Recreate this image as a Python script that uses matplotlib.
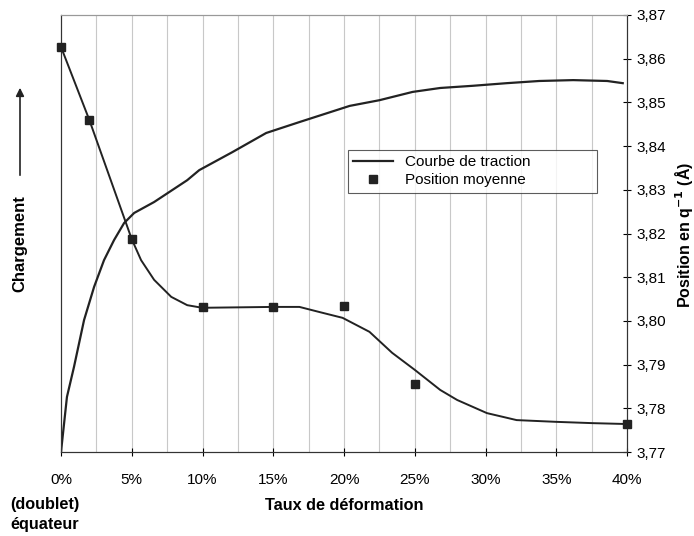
import matplotlib
matplotlib.use('Agg')
import matplotlib.pyplot as plt

plt.rcParams['font.family'] = ['Liberation Sans', 'DejaVu Sans']

# courbe de traction (chargement, unites arbitraires)
traction_x = [0, 0.42, 0.92, 1.63, 2.34, 3.04, 3.75, 4.46, 5.17, 6.58, 8.92, 9.77,
              12.1, 14.5, 16.85, 20.4, 22.5, 24.85, 26.8, 29.1, 31.5, 33.8, 36.2, 38.6, 39.7]
traction_y = [0, 0.126, 0.195, 0.302, 0.378, 0.439, 0.485, 0.524, 0.547, 0.572, 0.622, 0.645,
              0.686, 0.730, 0.755, 0.792, 0.805, 0.824, 0.833, 0.838, 0.844, 0.849, 0.851, 0.849, 0.844]

# position moyenne (points mesures)
pos_x = [0, 2, 5, 10, 15, 20, 25, 40]
pos_y = [3.8627, 3.8460, 3.8187, 3.8031, 3.8032, 3.8034, 3.7856, 3.7764]

# courbe lissee de la position
fit_x = [0, 2, 5, 5.66, 6.58, 7.79, 8.92, 9.98, 15.0, 16.85, 18.3, 19.9, 21.8, 23.4,
         25.0, 26.8, 28.0, 30.1, 32.2, 35.0, 37.6, 40]
fit_y = [3.8627, 3.8460, 3.8187, 3.8139, 3.8094, 3.8055, 3.8036, 3.8030, 3.8032, 3.8032,
         3.8020, 3.8007, 3.7975, 3.7927, 3.7888, 3.7842, 3.7819, 3.7789, 3.7773, 3.7769,
         3.7766, 3.7764]

xticks = [0, 5, 10, 15, 20, 25, 30, 35, 40]
yticks = [3.77, 3.78, 3.79, 3.80, 3.81, 3.82, 3.83, 3.84, 3.85, 3.86, 3.87]

fig = plt.figure(figsize=(6.94, 5.36), dpi=100)
ax = fig.add_axes([61/694, 84/536, 566/694, 437/536])
ax2 = ax.twinx()

for g in [2.5 * i for i in range(1, 16)]:
    ax.axvline(g, color='#c8c8c8', lw=0.8, zorder=0)

ax.plot(traction_x, traction_y, color='#222222', lw=1.6, label='Courbe de traction')
ax.set_xlim(0, 40)
ax.set_ylim(0, 1)
ax.set_yticks([])
ax.set_xticks(xticks)
ax.set_xticklabels(['%d%%' % v for v in xticks], fontsize=11)
ax.tick_params(axis='x', direction='inout', length=6, pad=12)

ax2.plot(fit_x, fit_y, color='#222222', lw=1.4)
ax2.plot(pos_x, pos_y, 's', color='#222222', markersize=6, clip_on=False, zorder=5,
         label='Position moyenne')
ax2.set_ylim(3.77, 3.87)
ax2.set_yticks(yticks)
ax2.set_yticklabels([('%.2f' % v).replace('.', ',') for v in yticks], fontsize=11)
ax2.tick_params(axis='y', direction='inout', length=6, pad=4)

for a in (ax, ax2):
    a.spines['top'].set_color('#999999')
    a.spines['left'].set_color('#333333')
    a.spines['right'].set_color('#333333')
    a.spines['bottom'].set_color('#333333')

h1, l1 = ax.get_legend_handles_labels()
h2, l2 = ax2.get_legend_handles_labels()
leg = ax2.legend(h1 + h2, l1 + l2, loc='upper left', mode='expand',
                 bbox_to_anchor=(0.507, 0.691 - 0.1076, 0.44, 0.1076),
                 fontsize=11, frameon=True, fancybox=False, edgecolor='#333333',
                 borderpad=0.35, borderaxespad=0, handlelength=2.6, labelspacing=0.25)
leg.get_frame().set_linewidth(0.8)

ax.set_xlabel('Taux de déformation', fontsize=11.7, fontweight='bold', labelpad=8)
fig.text(10/694, 1 - 505/536, '(doublet)', fontsize=11.7, fontweight='bold', va='center')
fig.text(10/694, 1 - 525/536, 'équateur', fontsize=11.7, fontweight='bold', va='center')

fig.text(20/694, 1 - 244/536, 'Chargement', rotation=90, fontsize=12, fontweight='bold',
         ha='center', va='center')
ax.annotate('', xy=(20, 451), xytext=(20, 358), xycoords='figure pixels',
            arrowprops=dict(arrowstyle='-|>', color='#222222', lw=1.2, mutation_scale=12))

fig.text(684/694, 1 - 235/536, r'Position en q$^{\mathbf{-1}}$ (Å)', rotation=90, fontsize=11.5,
         fontweight='bold', ha='center', va='center')

fig.savefig('out.png', dpi=100)
